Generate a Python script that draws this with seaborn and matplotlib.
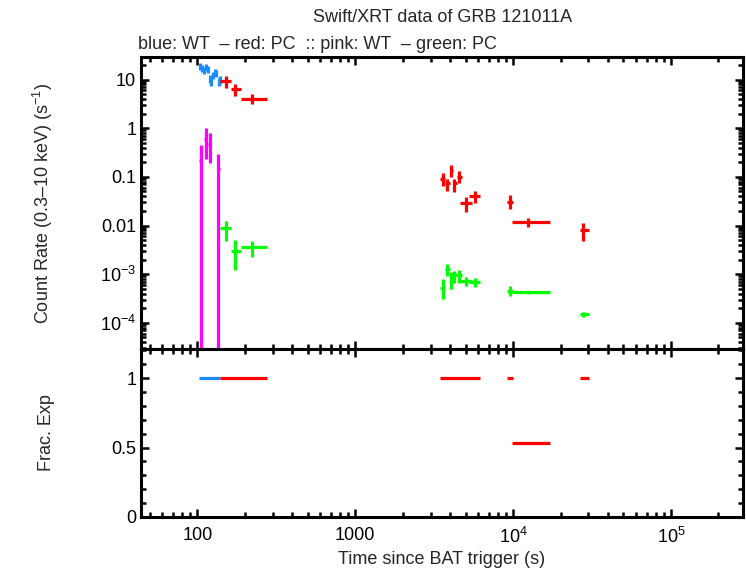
import numpy as np
import matplotlib
matplotlib.use("Agg")
import matplotlib.pyplot as plt
import seaborn as sns
from matplotlib.ticker import LogLocator, NullFormatter, MultipleLocator

# --- light curve values ---
# blue: WT (count rate)
wt_t = [103.7, 106.8, 109.9, 114.0, 116.5, 120.0, 122.6, 125.3, 129.0, 131.9, 136.8, 138.8]
wt_tlo = [102.2, 105.3, 108.4, 112.4, 115.2, 118.3, 121.3, 124.0, 127.2, 130.5, 135.3, 137.8]
wt_thi = [105.3, 108.4, 111.4, 115.2, 118.3, 121.3, 124.0, 127.2, 130.5, 133.5, 137.8, 140.0]
wt_r = [18.9, 17.2, 15.7, 18.0, 16.4, 10.2, 8.9, 12.4, 14.3, 13.6, 8.9, 9.8]
wt_rlo = [16.0, 14.5, 13.2, 15.2, 13.8, 8.3, 7.2, 10.3, 12.0, 11.3, 7.2, 8.0]
wt_rhi = [21.8, 20.0, 18.3, 20.8, 19.0, 12.3, 10.7, 14.6, 16.7, 16.0, 10.7, 11.8]

# red: PC (count rate)
pc_t = [153, 174, 223, 3575, 3840, 4070, 4250, 4570, 5010, 5740, 9610, 12500, 27900]
pc_tlo = [140, 163, 190, 3450, 3700, 3960, 4160, 4400, 4630, 5270, 9150, 9850, 26500]
pc_thi = [163, 190, 277, 3700, 3960, 4160, 4400, 4750, 5490, 6200, 10000, 17200, 30300]
pc_r = [9.3, 6.4, 4.0, 0.090, 0.075, 0.14, 0.075, 0.10, 0.029, 0.041, 0.031, 0.0119, 0.0079]
pc_rlo = [6.7, 4.6, 3.1, 0.066, 0.052, 0.101, 0.048, 0.076, 0.019, 0.029, 0.022, 0.0091, 0.0049]
pc_rhi = [11.8, 8.1, 5.0, 0.12, 0.092, 0.177, 0.092, 0.13, 0.039, 0.052, 0.043, 0.0144, 0.0114]

# pink: WT (hardness-band rate)
wt2_t = [105, 113, 119.6, 136]
wt2_tlo = [103, 110.5, 117, 133.5]
wt2_thi = [107, 115.5, 122.5, 139]
wt2_r = [0.21, 0.60, 0.48, 0.147]
wt2_rlo = [1e-6, 0.235, 0.195, 1e-6]
wt2_rhi = [0.45, 1.0, 0.80, 0.30]

# green: PC (hardness-band rate)
pc2_t = [153, 174, 223, 3575, 3840, 4070, 4250, 4570, 5010, 5740, 9610, 12500, 27900]
pc2_tlo = pc_tlo
pc2_thi = pc_thi
pc2_r = [0.0087, 0.00306, 0.00354, 5.3e-4, 1.25e-3, 8.05e-4, 9.4e-4, 9.4e-4, 7.2e-4, 6.9e-4, 4.6e-4, 4.2e-4, 1.55e-4]
pc2_rlo = [0.0047, 0.00119, 0.00223, 3.1e-4, 9.0e-4, 5.0e-4, 6.6e-4, 6.6e-4, 5.6e-4, 5.4e-4, 3.5e-4, 3.9e-4, 1.3e-4]
pc2_rhi = [0.0125, 0.0051, 0.0049, 7.9e-4, 1.6e-3, 1.09e-3, 1.15e-3, 1.23e-3, 8.9e-4, 8.5e-4, 5.6e-4, 4.5e-4, 1.7e-4]

# fractional exposure
fe_wt_start = [102]
fe_wt_stop = [140]
fe_wt_val = [1.0]
fe_pc_start = [140, 3450, 9150, 9850, 26500]
fe_pc_stop = [277, 6200, 10000, 17200, 30300]
fe_pc_val = [1.0, 1.0, 1.0, 0.53, 1.0]

x_ticks = [100, 1000, 1e4, 1e5]
x_labels = ["100", "1000", "$10^4$", "$10^5$"]
y_ticks = [10, 1, 0.1, 0.01, 1e-3, 1e-4]
y_labels = ["10", "1", "0.1", "0.01", "$10^{-3}$", "$10^{-4}$"]
fe_ticks = [0, 0.5, 1]
fe_labels = ["0", "0.5", "1"]

BLUE = "#1a8cff"
RED = "#ff0000"
PINK = "#ff00ff"
GREEN = "#00ff00"

sns.set_style("ticks")
plt.rcParams["font.family"] = ["Liberation Sans", "DejaVu Sans"]
plt.rcParams["mathtext.fontset"] = "custom"
plt.rcParams["mathtext.rm"] = "Liberation Sans"
plt.rcParams["mathtext.it"] = "Liberation Sans"
plt.rcParams["font.size"] = 13

fig = plt.figure(figsize=(7.46, 5.68), dpi=100)
ax1 = fig.add_axes([0.189, 0.3856, 0.807, 0.514])
ax2 = fig.add_axes([0.189, 0.0898, 0.807, 0.2958])

lw = 2.3


def cross(ax, t, tlo, thi, r, rlo, rhi, color):
    t = np.array(t); r = np.array(r)
    xerr = [t - np.array(tlo), np.array(thi) - t]
    yerr = [r - np.array(rlo), np.array(rhi) - r]
    ax.errorbar(t, r, xerr=xerr, yerr=yerr, fmt="none", ecolor=color,
                elinewidth=lw, capsize=0)


cross(ax1, wt_t, wt_tlo, wt_thi, wt_r, wt_rlo, wt_rhi, BLUE)
cross(ax1, pc_t, pc_tlo, pc_thi, pc_r, pc_rlo, pc_rhi, RED)
cross(ax1, wt2_t, wt2_tlo, wt2_thi, wt2_r, wt2_rlo, wt2_rhi, PINK)
cross(ax1, pc2_t, pc2_tlo, pc2_thi, pc2_r, pc2_rlo, pc2_rhi, GREEN)

ax2.hlines(fe_wt_val, fe_wt_start, fe_wt_stop, colors=BLUE, lw=lw)
ax2.hlines(fe_pc_val, fe_pc_start, fe_pc_stop, colors=RED, lw=lw)

for ax in (ax1, ax2):
    ax.set_xscale("log")
    ax.set_xlim(44, 2.86e5)
    ax.xaxis.set_minor_locator(LogLocator(base=10, subs=np.arange(2, 10)))
    ax.xaxis.set_minor_formatter(NullFormatter())
    ax.tick_params(which="both", direction="in", top=True, right=True, width=1.8,
                   labelsize=13, colors="black")
    ax.tick_params(which="major", length=6)
    ax.tick_params(which="minor", length=3.5)
    for s in ax.spines.values():
        s.set_linewidth(2.2)
        s.set_color("black")

ax1.set_yscale("log")
ax1.set_ylim(2.9e-5, 29)
ax1.set_yticks(y_ticks, y_labels)
ax1.yaxis.set_minor_locator(LogLocator(base=10, subs=np.arange(2, 10)))
ax1.yaxis.set_minor_formatter(NullFormatter())
ax1.set_xticks(x_ticks)
ax1.tick_params(axis="x", which="both", labelbottom=False)
ax1.set_ylabel("Count Rate (0.3\u201310 keV) (s$^{-1}$)", fontsize=13)

ax2.set_ylim(0, 1.21)
ax2.set_yticks(fe_ticks, fe_labels)
ax2.yaxis.set_minor_locator(MultipleLocator(0.1))
ax2.set_xticks(x_ticks, x_labels)
ax2.tick_params(axis="x", which="major", pad=7)
ax2.set_ylabel("Frac. Exp", fontsize=13)
ax2.set_xlabel("Time since BAT trigger (s)", fontsize=13, labelpad=3)

ax1.yaxis.set_label_coords(-0.143, 0.5)
ax2.yaxis.set_label_coords(-0.143, 0.5)

fig.text(0.593, 0.97, "Swift/XRT data of GRB 121011A", ha="center", va="center", fontsize=13)
fig.text(0.185, 0.922, "blue: WT  \u2013 red: PC  :: pink: WT  \u2013 green: PC",
         ha="left", va="center", fontsize=13)

fig.savefig("out.png", dpi=100)
